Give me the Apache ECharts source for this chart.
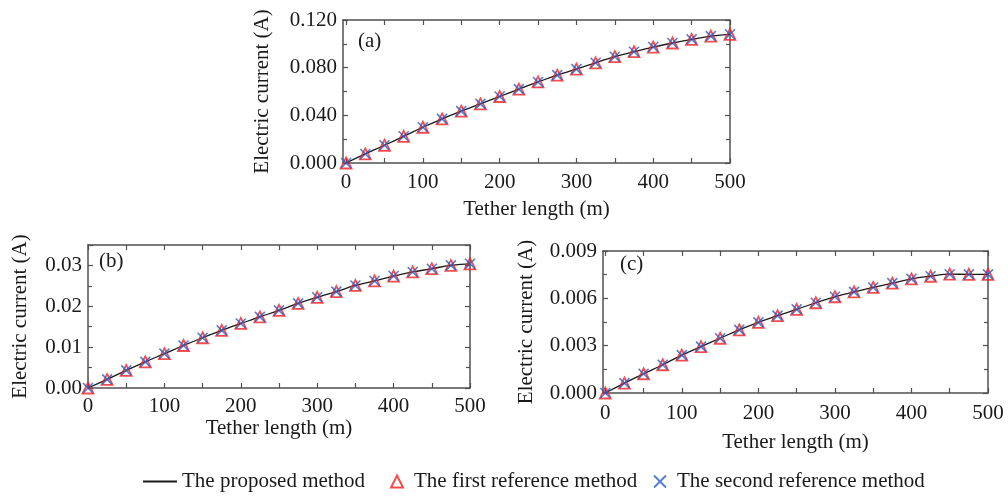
<!DOCTYPE html>
<html>
<head>
<meta charset="utf-8">
<script src="https://cdn.jsdelivr.net/npm/echarts@6/dist/echarts.min.js"></script>
<style>
  html, body { margin: 0; padding: 0; background: #fff; }
  #chart { width: 1008px; height: 496px; }
</style>
</head>
<body>
<div id="chart"></div>
<script>
// tether length (m) at each sample point
const tetherLength = [0, 25, 50, 75, 100, 125, 150, 175, 200, 225, 250,
  275, 300, 325, 350, 375, 400, 425, 450, 475, 500];
// electric current (A) (a), (b), (c)
const currentA = [0, 0.0076, 0.0149, 0.0224, 0.0300, 0.0370, 0.0435, 0.0496, 0.0558, 0.0620, 0.0680,
  0.0737, 0.0788, 0.0841, 0.0892, 0.0934, 0.0973, 0.1007, 0.1037, 0.1065, 0.1080];
const currentB = [0, 0.0021, 0.0043, 0.0064, 0.0084, 0.0104, 0.0123, 0.0141, 0.0158, 0.0174, 0.0190,
  0.0207, 0.0222, 0.0236, 0.0251, 0.0262, 0.0274, 0.0284, 0.0292, 0.0300, 0.0304];
const currentC = [0, 0.00063, 0.00122, 0.00179, 0.00240, 0.00294, 0.00347, 0.00400, 0.00448, 0.00490, 0.00530,
  0.00572, 0.00610, 0.00641, 0.00669, 0.00696, 0.00723, 0.00740, 0.00753, 0.00752, 0.00752];
const xTicks = [0, 50, 100, 150, 200, 250, 300, 350, 400, 450, 500];
const xLabels = [0, 100, 200, 300, 400, 500];
const seriesNames = ["The proposed method", "The first reference method", "The second reference method"];

const FONT = "Liberation Serif";
const INK = "#1a1a1a";
const FRAME = "#505050";
const RED = "#f52020";
const BLUE = "#2c5cc8";
const CROSS = "path://M0,0L10,10M10,0L0,10";

let chart = echarts.init(document.getElementById("chart"));

function pairs(ys) {
  return tetherLength.map((x, i) => [x, ys[i]]);
}

// bottom + top x axes for one grid (top one only draws line + ticks)
function xAxes(gi, min, nameGap, margin) {
  let base = {
    type: "value",
    gridIndex: gi,
    min: min,
    max: 500,
    splitLine: { show: false },
    axisLine: { show: true, onZero: false, lineStyle: { color: FRAME, width: 1.5 } },
    axisTick: { show: true, inside: true, length: 5, customValues: xTicks, lineStyle: { color: FRAME, width: 1.2 } }
  };
  return [
    Object.assign({}, base, {
      position: "bottom",
      name: "Tether length (m)",
      nameLocation: "middle",
      nameGap: nameGap,
      nameTextStyle: { fontFamily: FONT, fontSize: 21, color: INK },
      axisLabel: { customValues: xLabels, margin: margin, fontFamily: FONT, fontSize: 21, color: INK }
    }),
    Object.assign({}, base, { position: "top", axisLabel: { show: false } })
  ];
}

// left + right y axes for one grid
function yAxes(gi, max, interval, digits, nameGap, showMax) {
  let base = {
    type: "value",
    gridIndex: gi,
    min: 0,
    max: max,
    interval: interval,
    splitLine: { show: false },
    axisLine: { show: true, onZero: false, lineStyle: { color: FRAME, width: 1.5 } },
    axisTick: { show: true, inside: true, length: 5, lineStyle: { color: FRAME, width: 1.2 } },
    minorTick: { show: true, splitNumber: 2, length: 4, lineStyle: { color: FRAME, width: 1.2 } }
  };
  return [
    Object.assign({}, base, {
      position: "left",
      name: "Electric current (A)",
      nameLocation: "middle",
      nameGap: nameGap,
      nameTextStyle: { fontFamily: FONT, fontSize: 21, color: INK },
      axisLabel: {
        margin: 6, fontFamily: FONT, fontSize: 21, color: INK, showMaxLabel: showMax,
        formatter: v => v.toFixed(digits)
      }
    }),
    Object.assign({}, base, { position: "right", axisLabel: { show: false } })
  ];
}

// three series per panel; the crosses sit on the top/right axes (same scales)
function panelSeries(gi, ys) {
  let data = pairs(ys);
  return [
    {
      name: seriesNames[0], type: "line", xAxisIndex: gi * 2, yAxisIndex: gi * 2,
      data: data, smooth: true, symbol: "none",
      lineStyle: { color: INK, width: 1.3 }, itemStyle: { color: INK }, z: 2
    },
    {
      name: seriesNames[1], type: "scatter", xAxisIndex: gi * 2, yAxisIndex: gi * 2,
      data: data, symbol: "triangle", symbolSize: 11,
      itemStyle: { color: "transparent", borderColor: RED, borderWidth: 1.8 }, z: 3
    },
    {
      name: seriesNames[2], type: "scatter", xAxisIndex: gi * 2 + 1, yAxisIndex: gi * 2 + 1,
      data: data, symbol: CROSS, symbolSize: 10,
      itemStyle: { color: "transparent", borderColor: BLUE, borderWidth: 1.6 }, z: 4
    }
  ];
}

function panelTitle(text, left, top) {
  return { text: text, left: left, top: top, padding: 0,
    textStyle: { fontFamily: FONT, fontSize: 21, fontWeight: "normal", color: INK } };
}

function legendFor(name, left, itemWidth, itemHeight, textPad, extra) {
  return Object.assign({
    data: [name], left: left, top: 471, itemWidth: itemWidth, itemHeight: itemHeight,
    selectedMode: false, padding: 0,
    textStyle: { fontFamily: FONT, fontSize: 21, color: INK, padding: [0, 0, 0, textPad] }
  }, extra || {});
}

let option = {
  animation: false,
  backgroundColor: "#fff",
  title: [
    panelTitle("(a)", 358, 31),
    panelTitle("(b)", 99, 251),
    panelTitle("(c)", 620, 254)
  ],
  legend: [
    legendFor(seriesNames[0], 142, 34, 14, 0, { itemStyle: { opacity: 0 } }),
    legendFor(seriesNames[1], 390, 12, 12, 6),
    legendFor(seriesNames[2], 653, 12, 12, 6)
  ],
  grid: [
    { left: 343, top: 20, width: 387, height: 143 },
    { left: 88, top: 245, width: 382, height: 143 },
    { left: 603, top: 251, width: 385, height: 142 }
  ],
  xAxis: [].concat(xAxes(0, -4, 36, 9), xAxes(1, 0, 30, 8), xAxes(2, -3, 39, 10)),
  yAxis: [].concat(yAxes(0, 0.12, 0.04, 3, 70, true), yAxes(1, 0.035, 0.01, 2, 57, false),
    yAxes(2, 0.009, 0.003, 3, 66, true)),
  series: [].concat(panelSeries(0, currentA), panelSeries(1, currentB), panelSeries(2, currentC))
};

chart.setOption(option);
</script>
</body>
</html>
